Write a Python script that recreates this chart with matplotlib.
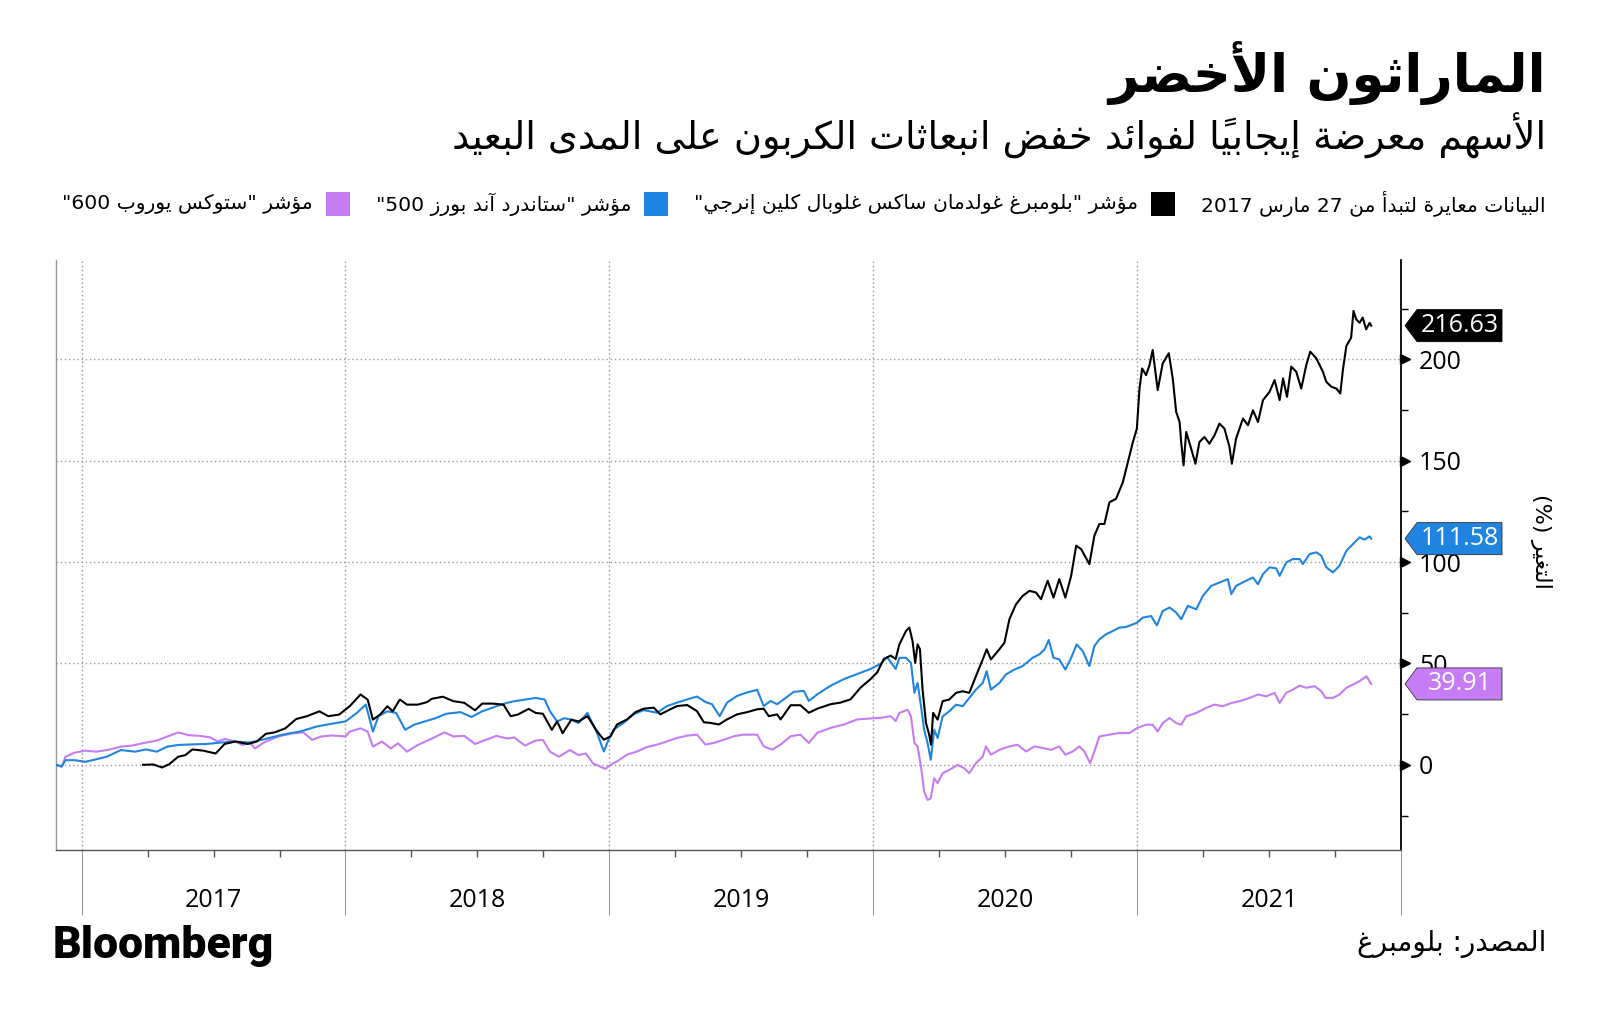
import re

import matplotlib

matplotlib.use("Agg")
import matplotlib.pyplot as plt
from matplotlib.patches import Polygon, Rectangle
from matplotlib import transforms

W, H = 1600, 1025

# ---------------------------------------------------------------
# Data: decimal year, % change (rebased)
# ---------------------------------------------------------------
CLEAN_ENERGY = [
    (2017.233, 0.0), (2017.271, 0.2), (2017.305, -1.3), (2017.332, 0.3), (2017.366, 4.0),
    (2017.393, 4.8), (2017.420, 7.6), (2017.461, 7.0), (2017.508, 5.6), (2017.542, 10.3),
    (2017.583, 11.5), (2017.630, 10.3), (2017.664, 11.5), (2017.698, 15.3), (2017.732, 16.0),
    (2017.772, 18.0), (2017.813, 22.6), (2017.854, 24.0), (2017.901, 26.4), (2017.935, 24.0),
    (2017.976, 24.8), (2018.016, 28.9), (2018.057, 34.7), (2018.084, 32.2), (2018.104, 22.3),
    (2018.131, 24.8), (2018.159, 28.9), (2018.179, 26.4), (2018.206, 32.2), (2018.233, 29.7),
    (2018.274, 29.7), (2018.308, 30.9), (2018.328, 32.6), (2018.369, 33.6), (2018.409, 31.4),
    (2018.450, 30.6), (2018.491, 26.9), (2018.518, 30.2), (2018.558, 30.2), (2018.599, 29.7),
    (2018.626, 24.0), (2018.653, 24.8), (2018.694, 27.6), (2018.721, 25.6), (2018.748, 25.2),
    (2018.782, 17.3), (2018.802, 21.4), (2018.823, 15.6), (2018.856, 22.3), (2018.883, 21.4),
    (2018.917, 24.0), (2018.953, 16.6), (2018.979, 12.4), (2019.004, 14.0), (2019.029, 19.9),
    (2019.067, 22.4), (2019.099, 26.0), (2019.130, 27.7), (2019.168, 28.2), (2019.193, 24.9),
    (2019.231, 27.4), (2019.257, 29.0), (2019.295, 29.5), (2019.332, 26.5), (2019.358, 21.0),
    (2019.383, 20.7), (2019.415, 19.9), (2019.446, 22.4), (2019.484, 24.9), (2019.522, 26.0),
    (2019.560, 27.4), (2019.585, 27.7), (2019.604, 24.0), (2019.636, 24.9), (2019.649, 22.4),
    (2019.687, 29.4), (2019.724, 29.4), (2019.756, 25.7), (2019.788, 27.7), (2019.838, 29.9),
    (2019.876, 30.7), (2019.914, 32.3), (2019.952, 38.1), (2019.990, 42.3), (2020.015, 45.6),
    (2020.040, 52.2), (2020.066, 53.9), (2020.085, 52.2), (2020.099, 59.4), (2020.124, 66.0),
    (2020.137, 67.7), (2020.149, 61.0), (2020.159, 50.3), (2020.168, 59.4), (2020.177, 57.0),
    (2020.187, 37.0), (2020.200, 20.6), (2020.212, 14.9), (2020.219, 9.9), (2020.227, 25.6),
    (2020.244, 22.3), (2020.263, 31.4), (2020.288, 32.2), (2020.314, 35.5), (2020.339, 36.3),
    (2020.364, 35.5), (2020.389, 43.7), (2020.415, 52.0), (2020.430, 57.0), (2020.446, 52.0),
    (2020.478, 57.0), (2020.497, 60.2), (2020.516, 71.8), (2020.541, 79.2), (2020.566, 83.3),
    (2020.592, 85.8), (2020.617, 85.0), (2020.636, 81.7), (2020.661, 90.8), (2020.683, 82.5),
    (2020.705, 91.6), (2020.728, 82.5), (2020.750, 93.2), (2020.769, 108.1), (2020.788, 106.4),
    (2020.819, 99.0), (2020.838, 113.0), (2020.857, 118.8), (2020.876, 118.8), (2020.895, 129.5),
    (2020.920, 131.2), (2020.946, 139.4), (2020.965, 149.3), (2020.984, 159.2), (2020.999, 165.8),
    (2021.009, 185.6), (2021.019, 195.5), (2021.034, 192.2), (2021.047, 197.2), (2021.059, 204.6),
    (2021.078, 184.8), (2021.097, 198.0), (2021.120, 203.0), (2021.135, 190.6), (2021.148, 174.1),
    (2021.161, 169.1), (2021.167, 159.2), (2021.176, 147.7), (2021.186, 164.2), (2021.205, 155.9),
    (2021.221, 148.5), (2021.236, 159.2), (2021.255, 161.7), (2021.274, 158.4), (2021.293, 162.5),
    (2021.312, 168.3), (2021.331, 165.8), (2021.350, 156.8), (2021.359, 148.5), (2021.375, 160.9),
    (2021.401, 170.8), (2021.420, 167.5), (2021.439, 174.9), (2021.458, 169.1), (2021.477, 179.9),
    (2021.502, 184.0), (2021.521, 189.8), (2021.540, 179.9), (2021.553, 190.6), (2021.568, 181.5),
    (2021.584, 196.4), (2021.603, 193.9), (2021.622, 185.6), (2021.641, 197.2), (2021.656, 203.8),
    (2021.679, 200.5), (2021.704, 193.9), (2021.717, 188.9), (2021.736, 186.5), (2021.755, 185.6),
    (2021.770, 183.2), (2021.780, 195.0), (2021.793, 206.6), (2021.811, 210.7), (2021.820, 223.9),
    (2021.830, 219.8), (2021.843, 218.0), (2021.855, 220.6), (2021.868, 214.8), (2021.881, 218.0),
    (2021.887, 216.63),
]

SP500 = [
    (2016.902, 0.0), (2016.925, -0.7), (2016.939, 2.3), (2016.973, 2.3), (2017.014, 1.5),
    (2017.054, 2.7), (2017.095, 4.0), (2017.149, 7.3), (2017.203, 6.5), (2017.244, 7.6),
    (2017.285, 6.5), (2017.325, 9.0), (2017.366, 9.8), (2017.420, 10.1), (2017.474, 10.3),
    (2017.528, 11.0), (2017.583, 11.5), (2017.637, 11.0), (2017.691, 12.6), (2017.759, 14.8),
    (2017.827, 16.4), (2017.894, 19.0), (2017.962, 20.6), (2018.000, 21.4), (2018.043, 25.6),
    (2018.077, 29.7), (2018.104, 16.4), (2018.125, 24.0), (2018.159, 26.4), (2018.192, 25.6),
    (2018.226, 17.3), (2018.260, 19.8), (2018.301, 21.4), (2018.341, 23.0), (2018.382, 25.2),
    (2018.436, 26.0), (2018.477, 23.6), (2018.518, 26.4), (2018.572, 28.9), (2018.612, 30.6),
    (2018.640, 31.4), (2018.680, 32.2), (2018.721, 33.0), (2018.755, 32.2), (2018.775, 26.4),
    (2018.802, 21.4), (2018.829, 23.0), (2018.856, 22.3), (2018.883, 20.6), (2018.917, 25.6),
    (2018.953, 15.8), (2018.979, 6.6), (2018.997, 12.4), (2019.016, 17.4), (2019.054, 20.7),
    (2019.092, 24.9), (2019.130, 27.0), (2019.181, 25.7), (2019.219, 29.0), (2019.257, 30.7),
    (2019.295, 32.3), (2019.332, 33.7), (2019.364, 31.0), (2019.389, 29.9), (2019.418, 24.0),
    (2019.446, 30.7), (2019.484, 34.0), (2019.522, 35.7), (2019.560, 37.0), (2019.585, 29.0),
    (2019.611, 31.5), (2019.636, 29.9), (2019.661, 32.3), (2019.699, 36.0), (2019.737, 36.5),
    (2019.756, 31.5), (2019.788, 34.8), (2019.838, 39.0), (2019.889, 42.3), (2019.939, 44.8),
    (2019.990, 47.3), (2020.028, 49.8), (2020.053, 53.1), (2020.085, 47.3), (2020.099, 52.8),
    (2020.124, 52.8), (2020.143, 50.3), (2020.156, 35.5), (2020.168, 40.4), (2020.181, 28.9),
    (2020.193, 17.3), (2020.206, 10.7), (2020.218, 2.5), (2020.231, 17.3), (2020.244, 13.2),
    (2020.263, 23.9), (2020.288, 26.4), (2020.314, 29.7), (2020.339, 28.9), (2020.364, 33.0),
    (2020.389, 37.1), (2020.415, 40.4), (2020.430, 46.2), (2020.446, 37.1), (2020.478, 40.4),
    (2020.503, 44.6), (2020.535, 47.0), (2020.566, 48.7), (2020.604, 52.8), (2020.630, 54.5),
    (2020.649, 56.9), (2020.665, 61.6), (2020.683, 52.8), (2020.705, 52.0), (2020.728, 47.0),
    (2020.750, 52.8), (2020.771, 59.4), (2020.794, 56.1), (2020.819, 48.7), (2020.838, 58.6),
    (2020.857, 61.9), (2020.882, 64.4), (2020.908, 66.0), (2020.933, 67.7), (2020.958, 68.0),
    (2020.984, 69.3), (2021.000, 70.1), (2021.021, 72.6), (2021.053, 73.4), (2021.075, 68.8),
    (2021.097, 75.9), (2021.123, 77.6), (2021.148, 75.1), (2021.167, 71.8), (2021.192, 78.4),
    (2021.224, 76.7), (2021.249, 83.3), (2021.281, 88.3), (2021.312, 89.9), (2021.344, 91.6),
    (2021.357, 84.2), (2021.375, 88.3), (2021.413, 90.8), (2021.439, 92.4), (2021.458, 89.1),
    (2021.477, 94.1), (2021.502, 97.4), (2021.527, 96.9), (2021.540, 93.2), (2021.565, 99.8),
    (2021.590, 101.5), (2021.616, 101.5), (2021.628, 99.0), (2021.654, 104.0), (2021.679, 104.8),
    (2021.698, 103.1), (2021.717, 97.4), (2021.742, 94.9), (2021.767, 98.2), (2021.793, 105.6),
    (2021.818, 108.9), (2021.843, 112.2), (2021.862, 111.1), (2021.881, 112.7), (2021.887, 111.58),
]

STOXX600 = [
    (2016.902, 0.0), (2016.925, -1.0), (2016.939, 4.0), (2016.973, 6.0), (2017.014, 7.0),
    (2017.054, 6.5), (2017.081, 7.0), (2017.108, 7.6), (2017.149, 9.0), (2017.190, 9.5),
    (2017.230, 10.6), (2017.285, 12.0), (2017.325, 14.0), (2017.366, 16.0), (2017.407, 14.6),
    (2017.447, 14.3), (2017.488, 13.5), (2017.515, 11.5), (2017.542, 12.8), (2017.583, 11.5),
    (2017.610, 9.8), (2017.637, 11.0), (2017.657, 8.1), (2017.691, 11.0), (2017.745, 14.0),
    (2017.799, 15.6), (2017.840, 16.0), (2017.874, 12.3), (2017.908, 14.0), (2017.949, 14.5),
    (2018.000, 14.0), (2018.016, 16.4), (2018.057, 18.0), (2018.084, 16.4), (2018.104, 9.0),
    (2018.138, 11.5), (2018.172, 8.1), (2018.199, 10.6), (2018.233, 6.5), (2018.274, 9.8),
    (2018.328, 13.0), (2018.375, 16.0), (2018.409, 14.0), (2018.450, 14.3), (2018.491, 10.3),
    (2018.531, 12.3), (2018.572, 14.3), (2018.612, 13.0), (2018.640, 13.5), (2018.680, 9.5),
    (2018.721, 12.0), (2018.748, 12.3), (2018.775, 6.5), (2018.809, 4.0), (2018.850, 7.3),
    (2018.883, 4.8), (2018.911, 5.6), (2018.938, 0.7), (2018.985, -2.0), (2019.004, 0.0),
    (2019.029, 1.7), (2019.067, 5.0), (2019.105, 6.6), (2019.143, 8.8), (2019.181, 10.0),
    (2019.219, 11.6), (2019.257, 13.3), (2019.295, 14.4), (2019.332, 14.9), (2019.364, 10.0),
    (2019.396, 10.8), (2019.434, 12.4), (2019.472, 14.1), (2019.509, 14.9), (2019.560, 14.9),
    (2019.585, 9.1), (2019.617, 7.5), (2019.649, 10.0), (2019.687, 14.1), (2019.724, 14.9),
    (2019.756, 10.8), (2019.788, 15.8), (2019.838, 18.2), (2019.889, 19.9), (2019.939, 22.4),
    (2019.990, 22.9), (2020.028, 23.2), (2020.066, 24.0), (2020.085, 21.6), (2020.099, 25.6),
    (2020.130, 27.2), (2020.143, 23.9), (2020.156, 10.7), (2020.168, 9.1), (2020.181, -0.8),
    (2020.193, -13.2), (2020.206, -17.3), (2020.218, -16.5), (2020.231, -6.6), (2020.244, -9.1),
    (2020.263, -4.1), (2020.288, -2.5), (2020.320, 0.0), (2020.345, -1.7), (2020.364, -4.1),
    (2020.389, 0.8), (2020.415, 4.1), (2020.427, 9.1), (2020.446, 5.0), (2020.478, 7.4),
    (2020.516, 9.1), (2020.547, 9.9), (2020.579, 6.6), (2020.611, 9.1), (2020.642, 8.3),
    (2020.674, 7.4), (2020.705, 9.1), (2020.728, 5.0), (2020.756, 6.6), (2020.781, 9.1),
    (2020.800, 6.6), (2020.822, 0.8), (2020.838, 6.6), (2020.857, 14.0), (2020.895, 14.9),
    (2020.933, 15.7), (2020.971, 15.7), (2021.000, 18.2), (2021.034, 19.8), (2021.059, 19.8),
    (2021.078, 16.5), (2021.097, 20.6), (2021.123, 23.1), (2021.148, 20.6), (2021.167, 19.8),
    (2021.186, 23.9), (2021.224, 25.6), (2021.262, 28.1), (2021.293, 29.7), (2021.325, 28.9),
    (2021.357, 30.5), (2021.388, 31.4), (2021.426, 33.0), (2021.458, 34.7), (2021.489, 33.8),
    (2021.521, 35.5), (2021.540, 30.5), (2021.565, 35.5), (2021.590, 37.1), (2021.616, 39.1),
    (2021.641, 38.0), (2021.673, 38.8), (2021.698, 36.3), (2021.714, 33.0), (2021.742, 33.0),
    (2021.767, 34.7), (2021.793, 38.0), (2021.818, 39.6), (2021.843, 41.3), (2021.869, 43.7),
    (2021.887, 39.91),
]

LAST_VALUES = [216.63, 111.58, 39.91]
SERIES_COLORS = ["#000000", "#1f85e0", "#c67cf4"]
YEARS = [2017, 2018, 2019, 2020, 2021]
Y_MAJOR = [0, 50, 100, 150, 200]
Y_MINOR = [-25, 25, 75, 125, 175, 225]

TITLE = "الماراثون الأخضر"
SUBTITLE = "الأسهم معرضة إيجابياً لفوائد خفض انبعاثات الكربون على المدى البعيد"
NOTE = "البيانات معايرة لتبدأ من 27 مارس 2017"
LEGEND_LABELS = [
    'مؤشر "بلومبرغ غولدمان ساكس غلوبال كلين إنرجي"',
    'مؤشر "ستاندرد آند بورز 500"',
    'مؤشر "ستوكس يوروب 600"',
]
YLABEL = "التغير (%)"
SOURCE = "المصدر: بلومبرغ"

AR_FONT = ["DejaVu Sans"]
NUM_FONT = ["Open Sans", "DejaVu Sans"]

# ---------------------------------------------------------------
# Minimal Arabic shaping + right-to-left ordering (no external libs)
# ---------------------------------------------------------------
AR_FORMS = {
    "ء": (0xFE80, 1), "آ": (0xFE81, 2), "أ": (0xFE83, 2), "ؤ": (0xFE85, 2),
    "إ": (0xFE87, 2), "ئ": (0xFE89, 4), "ا": (0xFE8D, 2), "ب": (0xFE8F, 4),
    "ة": (0xFE93, 2), "ت": (0xFE95, 4), "ث": (0xFE99, 4), "ج": (0xFE9D, 4),
    "ح": (0xFEA1, 4), "خ": (0xFEA5, 4), "د": (0xFEA9, 2), "ذ": (0xFEAB, 2),
    "ر": (0xFEAD, 2), "ز": (0xFEAF, 2), "س": (0xFEB1, 4), "ش": (0xFEB5, 4),
    "ص": (0xFEB9, 4), "ض": (0xFEBD, 4), "ط": (0xFEC1, 4), "ظ": (0xFEC5, 4),
    "ع": (0xFEC9, 4), "غ": (0xFECD, 4), "ف": (0xFED1, 4), "ق": (0xFED5, 4),
    "ك": (0xFED9, 4), "ل": (0xFEDD, 4), "م": (0xFEE1, 4), "ن": (0xFEE5, 4),
    "ه": (0xFEE9, 4), "و": (0xFEED, 2), "ى": (0xFEEF, 2), "ي": (0xFEF1, 4),
}
LAM_ALEF = {"آ": 0xFEF5, "أ": 0xFEF7, "إ": 0xFEF9, "ا": 0xFEFB}
MARKS = {chr(c) for c in range(0x064B, 0x0653)}
LTR_RUN = r"[0-9A-Za-z]+(?:[.,][0-9]+)*"


def shape(s):
    toks = []  # [char, base, n]
    i = 0
    while i < len(s):
        c = s[i]
        if c == "ل" and i + 1 < len(s) and s[i + 1] in LAM_ALEF:
            toks.append([c, LAM_ALEF[s[i + 1]], 2])
            i += 2
            continue
        if c in AR_FORMS:
            toks.append([c, *AR_FORMS[c]])
        else:
            toks.append([c, None, 0])
        i += 1

    def neighbour(k, step):
        k += step
        while 0 <= k < len(toks) and toks[k][0] in MARKS:
            k += step
        return toks[k] if 0 <= k < len(toks) else None

    out = []
    for k, (c, base, n) in enumerate(toks):
        if base is None:
            out.append(c)
            continue
        prev, nxt = neighbour(k, -1), neighbour(k, 1)
        jp = n >= 2 and prev is not None and prev[2] == 4
        jn = n == 4 and nxt is not None and nxt[1] is not None and nxt[2] >= 2
        form = 3 if (jp and jn) else 1 if jp else 2 if jn else 0
        out.append(chr(base + form))
    return "".join(out)


def ar(s):
    parts = re.split("(" + LTR_RUN + ")", shape(s))
    vis = []
    for p in reversed(parts):
        if not p:
            continue
        if re.fullmatch(LTR_RUN, p):
            vis.append(p)
            continue
        clusters = []
        for ch in p:
            if ch in MARKS and clusters:
                clusters[-1] += ch
            else:
                clusters.append(ch)
        seg = "".join(reversed(clusters))
        vis.append(seg.translate(str.maketrans("()", ")(")))
    return "".join(vis)


def fx(px):
    return px / W


def fy(py):
    return 1 - py / H


# ---------------------------------------------------------------
fig = plt.figure(figsize=(W / 100, H / 100), dpi=100)
fig.patch.set_facecolor("white")

ax = fig.add_axes([fx(56), fy(850), (1401 - 56) / W, (850 - 260) / H])
ax.set_xlim(2016.903, 2022.0)
ax.set_ylim(-42, 249)

for data, color in [(STOXX600, SERIES_COLORS[2]), (SP500, SERIES_COLORS[1]),
                    (CLEAN_ENERGY, SERIES_COLORS[0])]:
    xs, ys = zip(*data)
    ax.plot(xs, ys, color=color, lw=1.5, zorder=3, solid_joinstyle="round")

# grid / ticks
ax.set_yticks(Y_MAJOR)
ax.set_yticks(Y_MINOR, minor=True)
ax.set_xticks(YEARS + [2022])
quarters = [y + q for y in YEARS for q in (0.25, 0.5, 0.75)]
ax.set_xticks(quarters, minor=True)
ax.set_xticklabels([])
ax.grid(True, which="major", color="#999999", linestyle=(0, (1, 2)), lw=1.0)
ax.set_axisbelow(True)

ax.yaxis.tick_right()
ax.tick_params(axis="y", which="major", length=0, pad=13, labelsize=18)
ax.tick_params(axis="y", which="minor", length=5, width=1, color="black", direction="out")
for lab in ax.get_yticklabels():
    lab.set_fontfamily(NUM_FONT)
ax.tick_params(axis="x", which="major", length=47, width=0.8, color="#9a9a9a", direction="out")
ax.tick_params(axis="x", which="minor", length=5, width=1, color="#555555", direction="out")

ax.spines["top"].set_visible(False)
ax.spines["left"].set_color("#9a9a9a")
ax.spines["left"].set_linewidth(1)
ax.spines["bottom"].set_color("#555555")
ax.spines["bottom"].set_linewidth(1)
ax.spines["right"].set_color("black")
ax.spines["right"].set_linewidth(1.3)

# triangle markers for major y ticks
tri_tr = transforms.offset_copy(ax.get_yaxis_transform(), fig=fig, x=4, y=0, units="dots")
ax.plot([1] * len(Y_MAJOR), Y_MAJOR, ls="none", marker=">", ms=7, color="black",
        transform=tri_tr, clip_on=False, zorder=4)

# year labels
for y in YEARS:
    ax.text(y + 0.5, -0.085, str(y), transform=ax.get_xaxis_transform(), ha="center",
            va="center", fontsize=18, family=NUM_FONT)

# value tags
xform = ax.get_yaxis_transform()
ax_w = 1401 - 56
tag_l, tag_r, notch = (1405 - 56) / ax_w, (1502 - 56) / ax_w, 12 / ax_w
half = 16 / 2.025
for val, color in zip(LAST_VALUES, SERIES_COLORS):
    pts = [(tag_l, val), (tag_l + notch, val + half), (tag_r, val + half),
           (tag_r, val - half), (tag_l + notch, val - half)]
    edge = color if color == "#000000" else "#333333"
    ax.add_patch(Polygon(pts, closed=True, facecolor=color, edgecolor=edge,
                         lw=0.6, transform=xform, clip_on=False, zorder=6))
    ax.text((tag_l + notch + tag_r) / 2, val, f"{val:.2f}", transform=xform, ha="center",
            va="center", color="white", fontsize=18, family=NUM_FONT, zorder=7, clip_on=False)

# y label
fig.text(fx(1541), fy(541), ar(YLABEL), rotation=-90, ha="center", va="center",
         fontsize=16, family=AR_FONT)

# titles
fig.text(fx(1546), fy(73), ar(TITLE), ha="right", va="center", fontsize=38,
         fontweight="bold", family=AR_FONT)
fig.text(fx(1546), fy(136), ar(SUBTITLE), ha="right", va="center", fontsize=27.5,
         family=AR_FONT)

# legend row (right to left)
renderer = fig.canvas.get_renderer()
ly = 204
x = 1546
t = fig.text(fx(x), fy(ly), ar(NOTE), ha="right", va="center", fontsize=14.6, family=AR_FONT)
x -= t.get_window_extent(renderer).width + 26
for label, color in zip(LEGEND_LABELS, SERIES_COLORS):
    fig.patches.append(Rectangle((fx(x - 24), fy(ly + 12)), 24 / W, 24 / H,
                                 transform=fig.transFigure, facecolor=color, edgecolor="none"))
    x -= 24 + 13
    t = fig.text(fx(x), fy(ly), ar(label), ha="right", va="center", fontsize=14.6,
                 family=AR_FONT)
    x -= t.get_window_extent(renderer).width + 26

# footer
fig.text(fx(53), fy(946), "Bloomberg", ha="left", va="center", fontsize=32,
         fontweight=900, family=["Roboto", "DejaVu Sans"])
fig.text(fx(1546), fy(944), ar(SOURCE), ha="right", va="center", fontsize=20, family=AR_FONT)

fig.savefig("out.png", dpi=100)
